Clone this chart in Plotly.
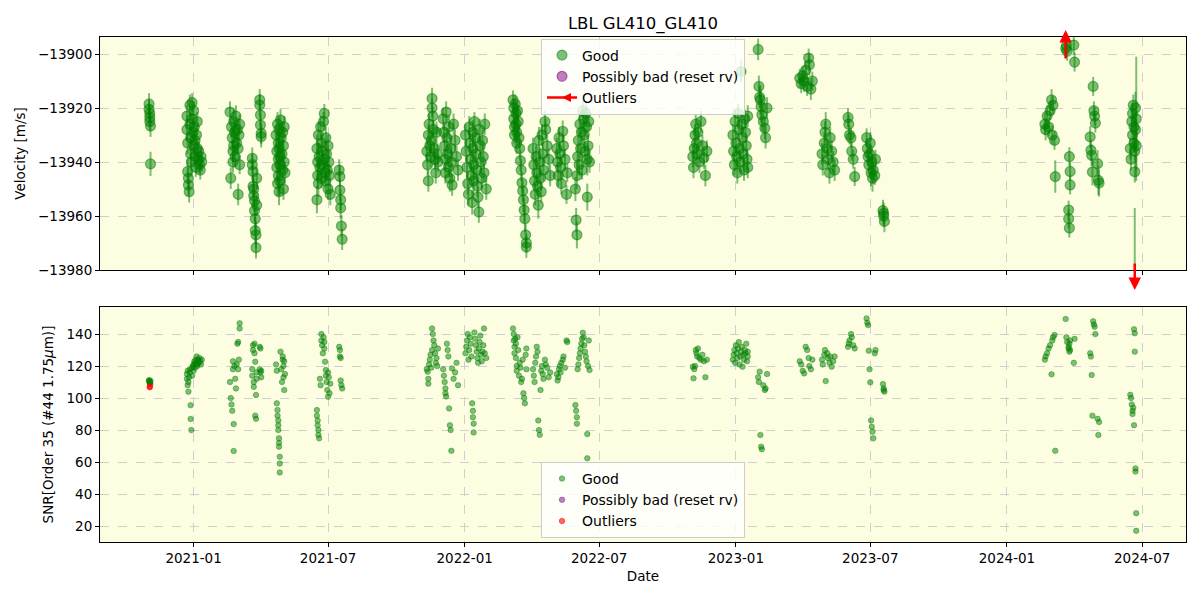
import plotly.graph_objects as go

# ---------------- data ----------------
obs_dates = [
    # 2020-11
    '2020-11-02','2020-11-02','2020-11-03','2020-11-03','2020-11-03','2020-11-04','2020-11-04',
    # 2020-12 / 2021-01
    '2020-12-23','2020-12-23','2020-12-24','2020-12-24','2020-12-25','2020-12-25','2020-12-26','2020-12-27','2020-12-27','2020-12-28',
    '2020-12-28','2020-12-29','2020-12-30','2020-12-30','2020-12-31','2021-01-01','2021-01-01','2021-01-02','2021-01-03','2021-01-03',
    '2021-01-04','2021-01-05','2021-01-06','2021-01-06','2021-01-07','2021-01-08','2021-01-09','2021-01-10','2021-01-11','2021-01-12',
    # 2021-02/03
    '2021-02-19','2021-02-20','2021-02-21','2021-02-22','2021-02-23','2021-02-23','2021-02-24','2021-02-24','2021-02-25','2021-02-26',
    '2021-02-27','2021-02-28','2021-03-01','2021-03-02','2021-03-02','2021-03-03','2021-03-04','2021-03-04',
    # 2021-03/04
    '2021-03-21','2021-03-21','2021-03-22','2021-03-22','2021-03-23','2021-03-23','2021-03-24','2021-03-24','2021-03-25','2021-03-25',
    '2021-03-26','2021-03-26','2021-03-27','2021-03-27','2021-03-31','2021-03-31','2021-04-01','2021-04-01','2021-04-02','2021-04-02',
    # 2021-04/05
    '2021-04-22','2021-04-23','2021-04-23','2021-04-24','2021-04-24','2021-04-25','2021-04-25','2021-04-25','2021-04-26','2021-04-26',
    '2021-04-26','2021-04-27','2021-04-27','2021-04-27','2021-04-28','2021-04-29','2021-04-30','2021-05-01','2021-05-01','2021-05-02',
    '2021-05-02','2021-05-03','2021-05-03','2021-05-04',
    # 2021-06/07
    '2021-06-16','2021-06-16','2021-06-17','2021-06-17','2021-06-18','2021-06-18','2021-06-19','2021-06-20','2021-06-21','2021-06-22',
    '2021-06-22','2021-06-23','2021-06-24','2021-06-25','2021-06-26','2021-06-26','2021-06-27','2021-06-28','2021-06-28','2021-06-29',
    '2021-06-30','2021-07-01','2021-07-01','2021-07-02','2021-07-03','2021-07-04',
    # 2021-07 late
    '2021-07-16','2021-07-17','2021-07-17','2021-07-18','2021-07-18','2021-07-19','2021-07-20',
    # 2021-11
    '2021-11-11','2021-11-12','2021-11-13','2021-11-13','2021-11-14','2021-11-15','2021-11-16','2021-11-17','2021-11-18','2021-11-18',
    '2021-11-19','2021-11-20','2021-11-21','2021-11-22','2021-11-23','2021-11-24','2021-11-25','2021-11-26',
    # 2021-12
    '2021-12-03','2021-12-04','2021-12-05','2021-12-06','2021-12-06','2021-12-07','2021-12-08','2021-12-09','2021-12-10','2021-12-11',
    '2021-12-12','2021-12-13','2021-12-14','2021-12-15','2021-12-17','2021-12-19','2021-12-21','2021-12-23',
    # 2022-01
    '2022-01-02','2022-01-03','2022-01-04','2022-01-05','2022-01-06','2022-01-07','2022-01-08','2022-01-09','2022-01-10','2022-01-11',
    '2022-01-12','2022-01-12','2022-01-13','2022-01-13','2022-01-14','2022-01-15','2022-01-16','2022-01-17','2022-01-18','2022-01-19',
    '2022-01-20','2022-01-21','2022-01-22','2022-01-23','2022-01-24','2022-01-25','2022-01-26','2022-01-27','2022-01-28','2022-01-30',
    # 2022-03
    '2022-03-07','2022-03-08','2022-03-08','2022-03-09','2022-03-09','2022-03-10','2022-03-11','2022-03-11','2022-03-12','2022-03-12',
    '2022-03-13','2022-03-14','2022-03-15','2022-03-16','2022-03-17','2022-03-18','2022-03-19','2022-03-20','2022-03-21','2022-03-22',
    '2022-03-23','2022-03-24','2022-03-25','2022-03-25',
    # 2022-04
    '2022-04-03','2022-04-04','2022-04-05','2022-04-06','2022-04-07','2022-04-08','2022-04-09','2022-04-10','2022-04-11','2022-04-12',
    '2022-04-13','2022-04-14','2022-04-15','2022-04-16','2022-04-17','2022-04-19','2022-04-20','2022-04-22','2022-04-24','2022-04-26',
    # 2022-05
    '2022-05-05','2022-05-06','2022-05-07','2022-05-08','2022-05-09','2022-05-10','2022-05-11','2022-05-13','2022-05-14','2022-05-16',
    '2022-05-18','2022-05-19',
    # 2022-06
    '2022-05-30','2022-05-31','2022-06-01','2022-06-01','2022-06-02','2022-06-03','2022-06-04','2022-06-05','2022-06-06','2022-06-07',
    '2022-06-08','2022-06-09','2022-06-10','2022-06-11','2022-06-12','2022-06-13','2022-06-14','2022-06-15','2022-06-15','2022-06-16',
    '2022-06-17','2022-06-18',
    # 2022-11
    '2022-11-04','2022-11-05','2022-11-06','2022-11-07','2022-11-08','2022-11-09','2022-11-10','2022-11-11','2022-11-13','2022-11-15',
    '2022-11-17','2022-11-19','2022-11-21','2022-11-23',
    # 2022-12 / 2023-01
    '2022-12-28','2022-12-29','2022-12-30','2022-12-31','2023-01-01','2023-01-02','2023-01-03','2023-01-04','2023-01-05','2023-01-06',
    '2023-01-07','2023-01-08','2023-01-09','2023-01-10','2023-01-11','2023-01-12','2023-01-13','2023-01-14','2023-01-15','2023-01-16',
    '2023-01-17','2023-01-17',
    # 2023-02
    '2023-01-31','2023-02-01','2023-02-02','2023-02-03','2023-02-04','2023-02-05','2023-02-07','2023-02-09','2023-02-10','2023-02-12',
    # 2023-04
    '2023-03-28','2023-03-30','2023-04-01','2023-04-03','2023-04-05','2023-04-07','2023-04-09','2023-04-10','2023-04-12','2023-04-14',
    # 2023-05
    '2023-04-27','2023-04-28','2023-04-30','2023-05-01','2023-05-02','2023-05-04','2023-05-05','2023-05-07','2023-05-08','2023-05-10',
    '2023-05-12','2023-05-14',
    # 2023-06
    '2023-06-01','2023-06-02','2023-06-03','2023-06-05','2023-06-06','2023-06-08','2023-06-10',
    # 2023-07
    '2023-06-26','2023-06-27','2023-06-28','2023-06-29','2023-06-30','2023-07-01','2023-07-02','2023-07-03','2023-07-04','2023-07-05',
    '2023-07-07','2023-07-08',
    '2023-07-18','2023-07-19','2023-07-19','2023-07-20',
    # 2024-02/03
    '2024-02-21','2024-02-22','2024-02-24','2024-02-26','2024-02-28','2024-03-01','2024-03-02','2024-03-03','2024-03-05','2024-03-06',
    # 2024-03/04
    '2024-03-20','2024-03-21','2024-03-22','2024-03-24','2024-03-24','2024-03-25','2024-03-25','2024-03-26','2024-03-26','2024-03-31',
    '2024-04-01',
    # 2024-04/05
    '2024-04-22','2024-04-23','2024-04-24','2024-04-25','2024-04-26','2024-04-27','2024-04-28','2024-04-29','2024-05-02','2024-05-03',
    '2024-05-04',
    # 2024-06
    '2024-06-15','2024-06-16','2024-06-17','2024-06-18','2024-06-18','2024-06-19','2024-06-20','2024-06-20','2024-06-21','2024-06-21',
    '2024-06-22','2024-06-22','2024-06-23','2024-06-23',
]

rv = [
    -13918.5,-13920.5,-13922,-13923.5,-13925,-13926.7,-13940.7,
    -13923,-13928,-13933,-13943.5,-13946,-13948.5,-13951,-13919,-13926,-13931,-13937,-13940,-13918,-13924,-13929,-13934,-13921,-13927,-13932,-13938,-13942,-13930,-13935,-13925,-13939,-13936,-13941,-13943,-13938,-13940,
    -13921.5,-13946,-13927,-13931,-13936,-13940,-13925,-13934,-13929,-13938,-13923,-13933,-13928,-13952,-13935,-13930,-13926,-13941,
    -13938.6,-13941,-13943.5,-13949,-13950,-13952.5,-13954.4,-13958,-13961,-13965.4,-13967,-13971.7,-13946,-13956,-13917,-13918.9,-13922.6,-13926.3,-13929.4,-13930.6,
    -13930,-13936,-13942,-13948,-13926,-13933,-13939,-13945,-13951,-13928,-13935,-13941,-13947,-13938,-13924.4,-13931,-13937,-13943,-13929,-13934,-13950,-13940,-13927,-13944,
    -13954,-13935,-13940,-13945,-13930,-13948,-13938,-13942,-13927,-13933,-13946,-13936,-13941,-13925,-13922,-13939,-13944,-13931,-13947,-13937,-13943,-13934,-13950,-13940,-13945,-13952,
    -13943,-13945.4,-13950.4,-13954,-13957,-13963.7,-13968.6,
    -13936,-13941,-13947,-13930,-13926,-13934,-13938,-13932,-13916.5,-13920,-13923,-13928,-13935,-13939,-13944,-13929,-13937,-13940,
    -13924,-13929,-13934,-13939,-13944,-13921.5,-13931,-13937,-13942,-13927,-13946,-13935,-13940,-13948.5,-13926,-13932,-13938,-13943,
    -13930,-13936,-13942,-13948,-13952,-13927,-13933,-13939,-13945,-13955,-13929,-13935,-13941,-13947,-13925,-13931,-13937,-13943,-13949,-13953,-13958.5,-13928,-13934,-13940,-13946,-13932,-13938,-13944,-13926,-13950,
    -13917,-13920,-13924,-13927,-13930,-13918.5,-13922,-13926,-13929,-13933,-13921,-13925,-13931,-13935,-13939.5,-13943,-13947.7,-13950.7,-13954,-13957.8,-13961,-13967,-13971.5,-13970,
    -13935,-13941,-13947,-13952,-13938,-13944,-13949,-13956,-13932,-13940,-13946,-13951,-13930,-13937,-13943,-13925,-13928,-13934,-13939,-13945,
    -13935,-13940,-13945,-13931,-13937,-13942,-13948,-13928.6,-13934,-13939,-13952,-13944,
    -13950,-13961.5,-13967,-13945,-13938,-13932,-13941,-13926,-13935,-13929,-13943,-13921,-13924,-13930,-13936,-13922,-13927,-13953,-13939,-13934,-13925,-13940,
    -13938,-13942,-13935,-13930,-13926,-13933,-13937,-13929,-13940,-13925,-13934,-13938.5,-13945,-13936,
    -13930,-13936,-13941,-13925,-13933,-13938,-13944,-13922,-13928,-13935,-13940,-13906.5,-13926,-13931,-13937,-13943,-13924,-13929,-13934,-13939,-13923,-13942,
    -13898.3,-13912,-13916,-13917,-13919.5,-13922.5,-13925,-13927.5,-13931,-13920,
    -13909,-13911,-13908,-13910,-13906,-13912,-13901.5,-13904,-13913,-13910,
    -13937,-13941,-13933,-13929,-13926,-13935,-13939,-13944,-13931,-13936,-13940,-13943,
    -13923.5,-13926,-13930,-13931,-13936,-13939,-13945.4,
    -13931,-13935,-13938,-13941,-13937,-13933,-13944,-13940,-13946,-13943,-13945,-13939,
    -13958,-13959,-13960,-13962,
    -13926,-13928,-13923,-13927,-13921,-13917,-13930,-13919,-13932,-13945.4,
    -13898,-13897,-13899,-13957.8,-13961,-13964.5,-13938,-13943.5,-13948.5,-13896.7,-13903,
    -13930.7,-13935.6,-13937.5,-13943.7,-13912,-13921,-13923,-13925.6,-13940.6,-13946.8,-13947.8,
    -13935,-13939,-13925,-13930,-13922,-13919,-13927,-13933,-13936,-13943.6,-13920,-13928,-13934,-13924,
]

rv_err = [
    4,3.5,3.5,3.5,3.5,4,4.5,
    4,4,4,4.5,4,4,4,4,3.5,4,5,5.5,3.5,3.5,3.5,3.5,3.5,3.5,3.5,3.5,3.5,3.5,3.5,3.5,3.5,3.5,3.5,3.5,3.5,3.5,
    4,4,4,4,4,4,4.5,6,4,4,4,4,3.5,4,4,4,3.5,3.5,
    4,4,4,4,4,4,4,4,4,5,5,4,4,4,4,4,4,4,4,4,
    4,4,4.5,4.5,4.5,4.5,5,5,5,5,5,5.5,5.5,6,4,4,4,4,4,4,4,4,4,4,
    5,5,5,5,5,5,5,4,4,3.5,3.5,3.5,3.5,3.5,3.5,3.5,4,4,4,4,4,4,4,4,4,4,
    4,4,4,4,4,4,4,
    4,4,4,4,4,4,4,4,4,3.5,3.5,3.5,3.5,4,4,4,4,3.5,
    4,4,4,4,4,4,3.5,3.5,3.5,4.5,5,5,6,4,4,4,4,4,
    4,4,4,4,4,4,4,4,4,4.5,4.5,5,5,5,3.5,3.5,3.5,4,4,4,4,4,3.5,4,4,4,4,3.5,4,4,
    3.5,3.5,3.5,3.5,3.5,3.5,3.5,4,4,4,3.5,4,4,4,4,4,4,4,4.5,4.5,5,4,4,3.5,
    4,4,4,4,4,3.5,3.5,5,5,5.5,4,4,4,4,4,4,4,4,4,4,
    4,4,4,4,4,4,4,4,4,4,3.5,3.5,
    4.5,4.5,5,5,4,4,4,4,3.5,3.5,3.5,3.5,3.5,3.5,3.5,4,4,5,6,4,3.5,4,
    4,4,4,4,3.5,3.5,3.5,3.5,4,4,4,4,4,4,
    4,4,4,4,3.5,4,4,3.5,3.5,4,4,4,3.5,4,4,4,3.5,4,3.5,4,4,4,
    4,4,4,5.5,6,6,4,4,4,4,
    3.5,3.5,3.5,4,3.5,3.5,3.5,4,4,3.5,
    4,4,4,4,4.5,4,4,4,4,4,4,4,
    3.5,3.5,3.5,3.5,3.5,3.5,3.5,
    3.5,3.5,3.5,3.5,4,4,5,5,5,5,3.5,3.5,
    4,4,4,4,
    4,4,4,3.5,3.5,4,3.5,3.5,3.5,6,
    3.5,3.5,3.5,3.5,3.5,3.5,3.5,3.5,3.5,3.5,3.5,
    4,4,4,5,3.5,3.5,3.5,3.5,5,5.5,5,
    4,4,4,4,4,4,5,3.5,3.5,4,6,6,9,23,
]

snr = [
    111.2,110.6,109.8,109.2,110.2,108.8,110.8,
    112,115,117,108,104,110,113,116,118,95.5,86.9,80,119,114,120,117,121,123,119,122,124,126,121,120,124,122,125,123,121,124,
    110,100,96,92,118,123,83.7,66.9,120,112,106,121,134,135,118,124,146.7,143.5,
    118,114,133,130,110,107,128,134,122.7,89,87,101.9,116,112,132,118,116,131,117,113,
    121,117,96.7,92.5,89,86,83,80,74.8,72,69.6,63.3,59,53.5,129,118,110,124,126,113,120,105,123,115,
    92.5,89,86,83,80,77,74.8,112,108,140,136,133,128,138,135,131,122.7,117.5,114,110,105,100.8,116,113,103,109,
    132,130,126,125,111,108,106,
    118,116.5,112,109,121,124,127,119,130,143.5,140,136,133,128,122,125,120,131,
    118,114,110,106,103,101,134,130,126,93.5,83,80,67,118.5,112,116,122,108,
    128,132,136,140,124,130,138,134,126,96.7,92,88,84,78.5,141,137,133,129,125,122,131,135,139,127,123,129,133,143.5,128,125,
    143.5,140,136,132,128,137,134,125,120,117,138,130,114,122,119,110,112,124,103,100,96.7,127,118,131,
    118,114,110,122,126,132,129,86,80,77,105,117,120,115,112,124,121,119,113,116,
    115,111,113,118,120,116,122,124,126,119,136,135,
    95.6,92,88,84,118,121,125,128,131,134,137,140.8,138,133,129,126,123,77.5,62.3,120,136,117.5,
    119.6,112.3,118,120,130,128,126,131,125,124,127,123,113,124,
    124,127,130,122,133,128,125,131,135,121,126,129,132,119.6,127,124,130,128,134,123,126,129,
    113,110,116.5,76.9,69.6,68,108,105,106,115,
    123,121,117,115.4,132,130,125,120,118,124,
    124,121,127,130,110.6,128,125,122,126,119.6,123,126,
    132,134,136,140,138,133,131,
    149.8,147,145.6,129.6,118,109.8,86,82,79,74.8,128,130,
    108.7,106,105,104,
    124,126,128,131,133,114.8,136,138,139.4,67,
    149.4,138,135,132,131,129,134,136,130,122,137,
    128,126,114.4,89,148,146,144.6,140,87,76.9,85,
    102,100,96,92,90,94,83,143,140.5,129,56,54,28,17,
]

# velocity outliers (beyond the plotted velocity range -> drawn as arrows)
outlier_dates = ['2024-03-20', '2024-06-21']
outlier_rv = [-13885.0, -14000.0]
outlier_err = [3.0, 43.0]

# SNR of outlier exposures
snr_outlier_dates = ['2020-11-03', '2020-11-03']
snr_outlier_vals = [106.7, 107.2]

x_range = ['2020-08-28', '2024-08-29']
rv_range = [-13980, -13893.7]
snr_range = [10, 156.9]
x_tickvals = ['2021-01-01', '2021-07-01', '2022-01-01', '2022-07-01',
              '2023-01-01', '2023-07-01', '2024-01-01', '2024-07-01']
x_ticktext = ['2021-01', '2021-07', '2022-01', '2022-07',
              '2023-01', '2023-07', '2024-01', '2024-07']
rv_tickvals = [-13980, -13960, -13940, -13920, -13900]
rv_ticktext = ['\u221213980', '\u221213960', '\u221213940', '\u221213920', '\u221213900']
snr_tickvals = [20, 40, 60, 80, 100, 120, 140]

assert len(obs_dates) == len(rv) == len(rv_err) == len(snr), (len(obs_dates), len(rv), len(rv_err), len(snr))

# ---------------- styles ----------------
GREEN = 'rgba(0,128,0,0.5)'
PURPLE = 'rgba(128,0,128,0.5)'
RED = 'rgba(255,0,0,0.6)'
FONT = 'DejaVu Sans'

fig = go.Figure()

# top panel: velocity
fig.add_trace(go.Scatter(
    x=obs_dates, y=rv, mode='markers', name='Good',
    marker=dict(size=10, color=GREEN, line=dict(color=GREEN, width=1.2)),
    error_y=dict(type='data', array=rv_err, color=GREEN, thickness=2, width=0),
    xaxis='x', yaxis='y', legend='legend'))
fig.add_trace(go.Scatter(
    x=outlier_dates, y=outlier_rv, mode='markers', showlegend=False,
    marker=dict(size=10, color=GREEN, line=dict(color=GREEN, width=1.2)),
    error_y=dict(type='data', array=outlier_err, color=GREEN, thickness=2, width=0),
    xaxis='x', yaxis='y'))
fig.add_trace(go.Scatter(
    x=[None], y=[None], mode='markers', name='Possibly bad (reset rv)',
    marker=dict(size=10, color=PURPLE, line=dict(color=PURPLE, width=1.2)),
    xaxis='x', yaxis='y', legend='legend'))
fig.add_trace(go.Scatter(
    x=[None], y=[None], mode='lines+markers', name='Outliers',
    line=dict(color='red', width=2.5),
    marker=dict(symbol='arrow-left', size=9, color='red'),
    xaxis='x', yaxis='y', legend='legend'))

# bottom panel: SNR
fig.add_trace(go.Scatter(
    x=obs_dates, y=snr, mode='markers', name='Good',
    marker=dict(size=5.5, color=GREEN, line=dict(color=GREEN, width=0.8)),
    xaxis='x2', yaxis='y2', legend='legend2'))
fig.add_trace(go.Scatter(
    x=[None], y=[None], mode='markers', name='Possibly bad (reset rv)',
    marker=dict(size=5.5, color=PURPLE, line=dict(color=PURPLE, width=0.8)),
    xaxis='x2', yaxis='y2', legend='legend2'))
fig.add_trace(go.Scatter(
    x=snr_outlier_dates, y=snr_outlier_vals, mode='markers', name='Outliers',
    marker=dict(size=5.5, color=RED, line=dict(color=RED, width=0.8)),
    xaxis='x2', yaxis='y2', legend='legend2'))

# arrows for velocity outliers beyond the plotted range
annotations = []
for d, v in zip(outlier_dates, outlier_rv):
    if v > rv_range[1]:
        annotations.append(dict(x=d, y=1.03, xref='x', yref='y domain', ax=0, ay=30,
                                text='', showarrow=True, arrowhead=2, arrowsize=1,
                                arrowwidth=2.5, arrowcolor='red', standoff=0))
    elif v < rv_range[0]:
        annotations.append(dict(x=d, y=-0.086, xref='x', yref='y domain', ax=0, ay=-28,
                                text='', showarrow=True, arrowhead=2, arrowsize=1,
                                arrowwidth=2.5, arrowcolor='red', standoff=0))

axis_common = dict(showline=True, linecolor='black', linewidth=1, mirror=True,
                   ticks='outside', ticklen=4, tickcolor='black',
                   showgrid=True, gridcolor='#cfcfcf', griddash='dash', gridwidth=1,
                   zeroline=False, tickfont=dict(size=13.5))

fig.update_layout(
    width=1200, height=600,
    margin=dict(l=100, r=14, t=37, b=58),
    paper_bgcolor='white', plot_bgcolor='#fdfde2',
    font=dict(family=FONT, size=14, color='black'),
    title=dict(text='LBL GL410_GL410', x=0.5, xref='paper', xanchor='center',
               y=1 - 23 / 600, yref='container', yanchor='middle',
               font=dict(size=16.5)),
    xaxis=dict(domain=[0, 1], anchor='y', type='date', range=x_range, matches='x2',
               tickvals=x_tickvals, showticklabels=False, **axis_common),
    yaxis=dict(domain=[0.5386, 1], anchor='x', range=rv_range,
               tickvals=rv_tickvals, ticktext=rv_ticktext,
               title=dict(text='Velocity [m/s]', font=dict(size=13.5), standoff=9),
               **axis_common),
    xaxis2=dict(domain=[0, 1], anchor='y2', type='date', range=x_range,
                tickvals=x_tickvals, ticktext=x_ticktext,
                title=dict(text='Date', font=dict(size=13.5), standoff=6), **axis_common),
    yaxis2=dict(domain=[0, 0.4653], anchor='x2', range=snr_range, tickvals=snr_tickvals,
                title=dict(text='SNR[Order 35 (#44 1.75<i>\u03bc</i>m)]', font=dict(size=13.5),
                           standoff=9),
                **axis_common),
    legend=dict(x=0.5, xanchor='center', y=0.997, yanchor='top',
                bgcolor='rgba(255,255,255,0.8)', bordercolor='#cccccc', borderwidth=1,
                font=dict(size=14), tracegroupgap=0),
    legend2=dict(x=0.5, xanchor='center', y=0.008, yanchor='bottom',
                 bgcolor='rgba(255,255,255,0.8)', bordercolor='#cccccc', borderwidth=1,
                 font=dict(size=14), tracegroupgap=0),
    annotations=annotations,
    showlegend=True,
)

fig.write_html('out.html')
